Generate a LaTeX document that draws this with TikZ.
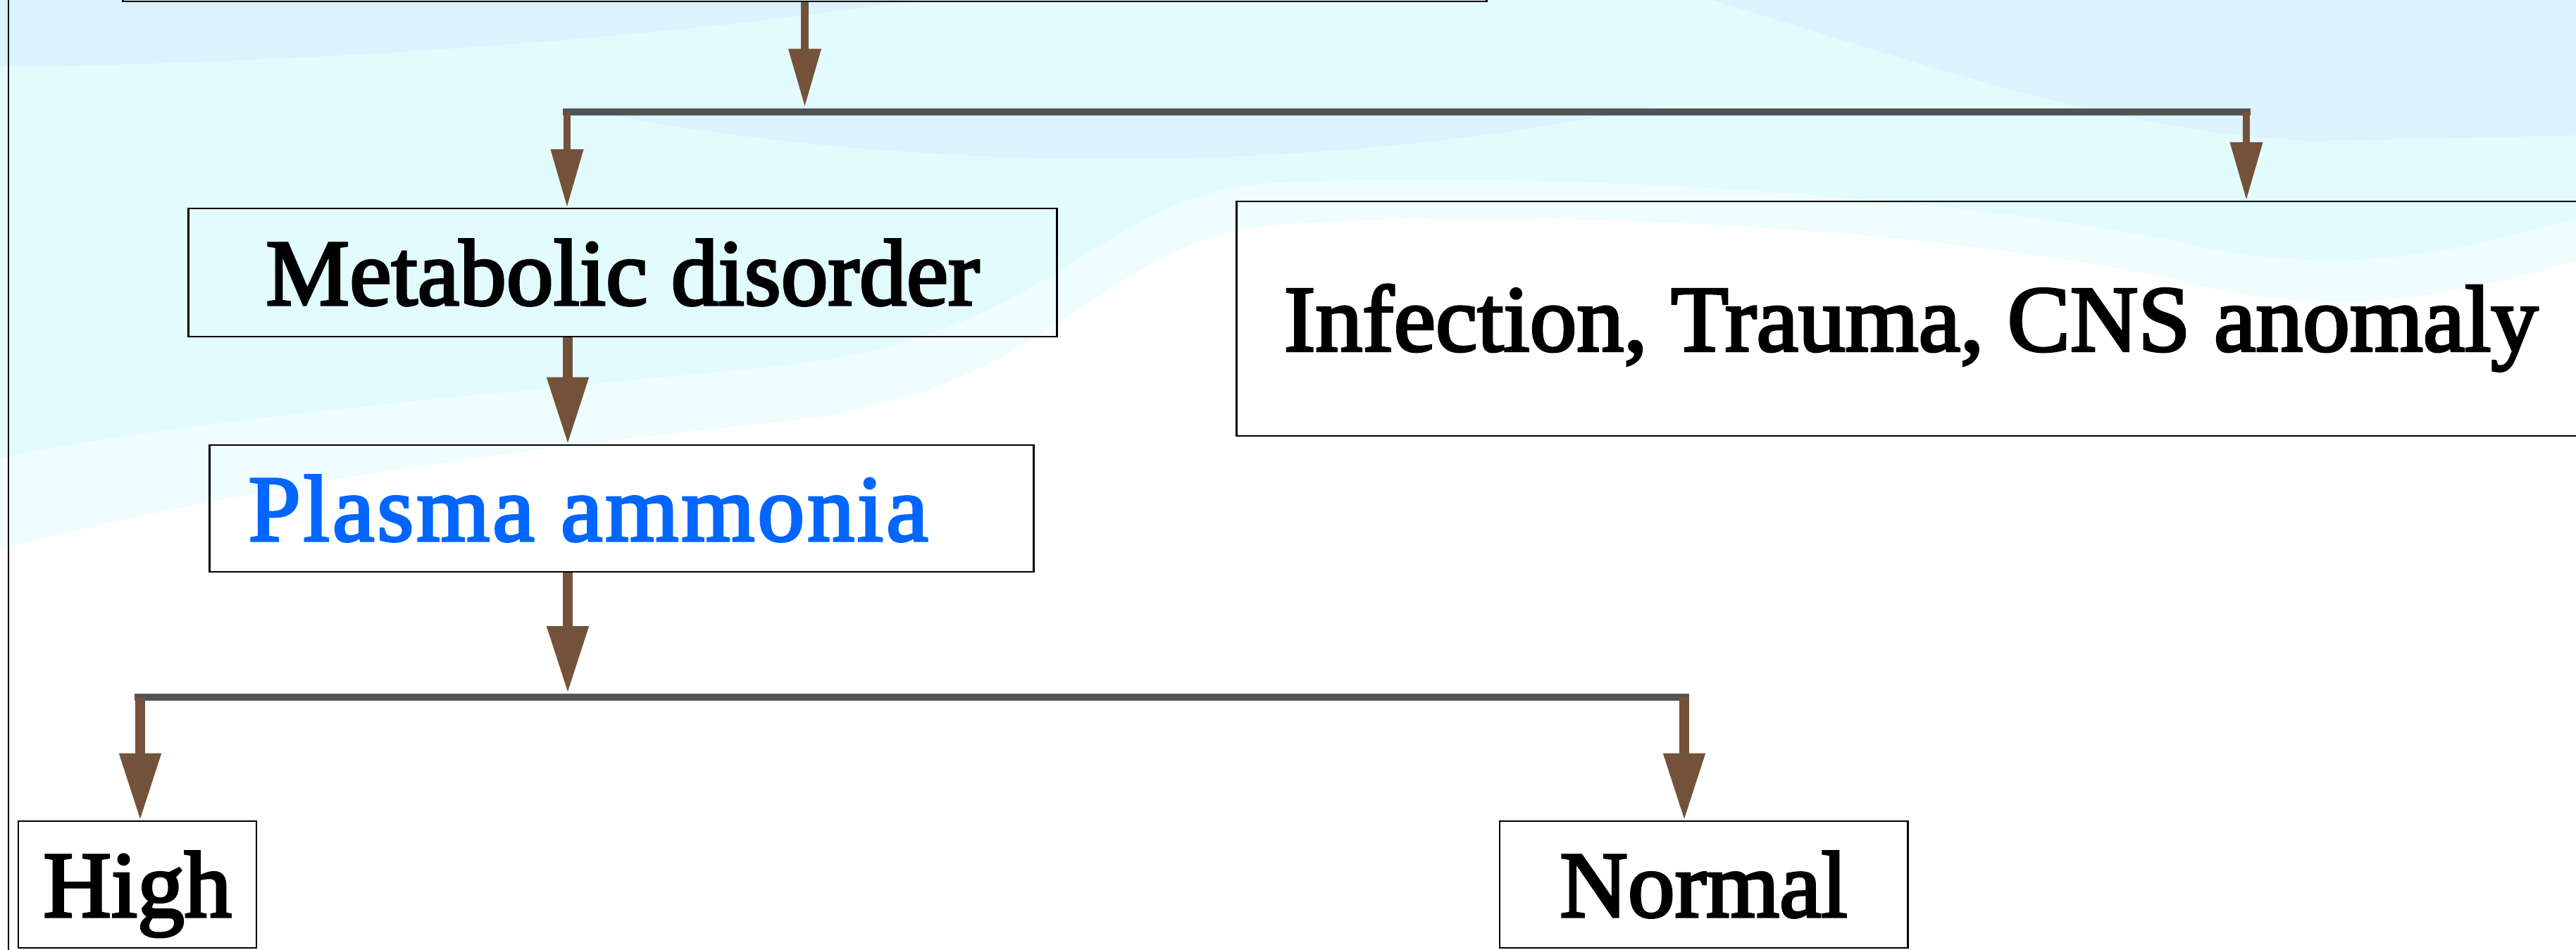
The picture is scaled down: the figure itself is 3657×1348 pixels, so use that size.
\documentclass[tikz,border=0pt]{standalone}
\usepackage{fontspec}
\setmainfont{Liberation Serif}
\newfontfamily\boxfont{Liberation Serif}[FakeBold=2.8]
\usetikzlibrary{arrows.meta}
\definecolor{arrbrown}{HTML}{74523A}
\definecolor{bargray}{HTML}{545454}
\definecolor{txtblue}{HTML}{0066FF}
\definecolor{bgcyan}{HTML}{E2FBFD}
\definecolor{bgcyanlight}{HTML}{EFFDFE}
\definecolor{bgblue}{HTML}{DAF3FC}
\begin{document}
\begin{tikzpicture}[x=0.01cm,y=-0.01cm,
  box/.style={draw=black, line width=0.75pt, rectangle, inner sep=0pt,
    font=\boxfont\fontsize{38}{40}\selectfont, text height=26pt, text depth=0pt, align=center},
  bar/.style={draw=bargray, line width=2.9pt},
  arrsmall/.style={draw=arrbrown, fill=arrbrown, line width=2.9pt, -{Triangle[length=23.5pt,width=12.5pt]}},
  arrbig/.style={draw=arrbrown, fill=arrbrown, line width=3.9pt, -{Triangle[length=27pt,width=16pt]}},
]
\useasboundingbox (0,0) rectangle (3657,1348);
\clip (0,0) rectangle (3657,1348);
% background
\fill[white] (0,0) rectangle (3657,1348);
\fill[bgcyanlight] (0,0) -- (3657,0) -- (3657,370)
  .. controls (3450,430) and (3300,450) .. (3100,400)
  .. controls (2800,330) and (2200,290) .. (1800,320)
  .. controls (1550,350) and (1500,560) .. (1100,600)
  .. controls (700,640) and (300,700) .. (0,780) -- cycle;
\fill[bgcyan] (0,0) -- (3657,0) -- (3657,310)
  .. controls (3450,370) and (3300,390) .. (3100,345)
  .. controls (2800,280) and (2200,240) .. (1800,260)
  .. controls (1550,280) and (1500,480) .. (1100,520)
  .. controls (700,560) and (300,590) .. (0,650) -- cycle;
\fill[bgblue] (0,0) -- (1300,0) .. controls (900,60) and (400,90) .. (0,95) -- cycle;
\fill[bgblue] (800,150) .. controls (1200,235) and (1800,265) .. (2350,150) -- cycle;
\fill[bgblue] (2430,0) .. controls (2700,80) and (3000,190) .. (3288,200) -- (3657,192) -- (3657,0) -- cycle;
% off-picture boxes
\node[box, minimum width=19.35cm, minimum height=3cm] (top) at (1142.5,-148) {};
\node[box, minimum width=5.12cm, minimum height=15.5cm] (left) at (-244,675) {};
% boxes
\node[box, minimum width=12.32cm, minimum height=1.82cm] (met) at (884,387) {Metabolic disorder};
\node[box, minimum width=11.69cm, minimum height=1.80cm, text=txtblue] (pla) at (882.5,722)
  {\addfontfeature{LetterSpace=3}Plasma ammonia\hspace*{0.95cm}};
\node[box, minimum width=19.14cm, minimum height=3.33cm] (inf) at (2713,452.5) {Infection, Trauma, CNS anomaly};
\node[box, minimum width=3.38cm, minimum height=1.80cm] (high) at (195,1256) {High};
\node[box, minimum width=5.79cm, minimum height=1.80cm] (nor) at (2418.5,1256) {Normal};
% junction coordinates
\coordinate (a1) at (805,159);
\coordinate (a2) at (3189,159);
\coordinate (b1) at (199,990);
\coordinate (b2) at (2391,990);
\coordinate (cx) at (806,0);
% bars
\draw[bar] ([xshift=-0.06cm]a1) -- ([xshift=0.06cm]a2);
\draw[bar] ([xshift=-0.08cm]b1) -- ([xshift=0.07cm]b2);
% arrows
\draw[arrsmall, shorten >=0.07cm] (top.south) -- (top.south |- a1);
\draw[arrsmall] (a1) -- (a1 |- met.north);
\draw[arrsmall] (a2) -- (a2 |- inf.north);
\draw[arrbig] (cx |- met.south) -- (cx |- pla.north);
\draw[arrbig, shorten >=0.06cm] (cx |- pla.south) -- (cx |- b1);
\draw[arrbig] (b1) -- (b1 |- high.north);
\draw[arrbig] (b2) -- (b2 |- nor.north);
\end{tikzpicture}
\end{document}
